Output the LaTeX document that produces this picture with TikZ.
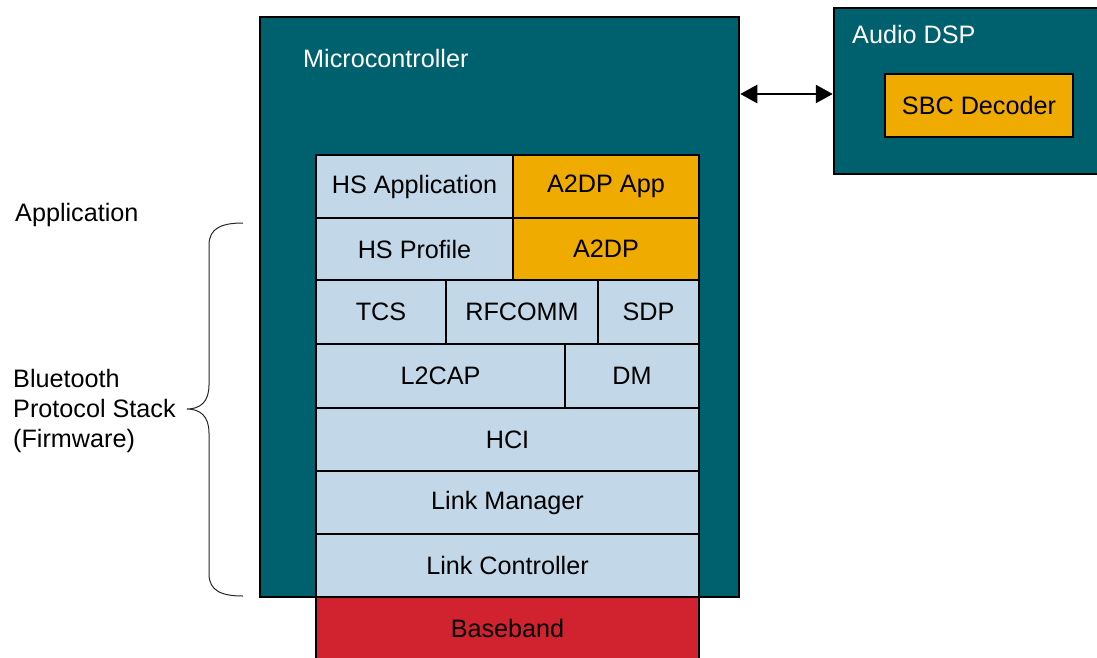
\documentclass[tikz,border=0pt]{standalone}
\usepackage{fontspec}
\setmainfont{Liberation Sans}
\usetikzlibrary{arrows.meta}
\definecolor{teal}{HTML}{00616E}
\definecolor{lblue}{HTML}{C2D8E8}
\definecolor{orng}{HTML}{F0AB00}
\definecolor{bred}{HTML}{D12230}
\begin{document}
\begin{tikzpicture}[x=1pt,y=-1pt,
  every node/.style={font=\fontsize{25.2}{30}\selectfont, inner sep=0pt},
  box/.style={draw=black, line width=2.5pt, rectangle},
  cell/.style={box, fill=lblue, text=black},
  ocell/.style={box, fill=orng, text=black},
  rcell/.style={box, fill=bred, text=black},
  tbox/.style={box, fill=teal},
  lbl/.style={anchor=west, text=black, align=left}]
\clip (0,0) rectangle (1097,657);
% containers
\node[tbox, minimum width=479pt, minimum height=580pt] (mc) at (499.5,307) {};
\node[anchor=west, text=white] (mctext) at (303,58) {Microcontroller};
\node[tbox, minimum width=276pt, minimum height=166pt] (dsp) at (972,91) {};
\node[anchor=west, text=white] (dsptext) at (852,34) {Audio DSP};
\node[ocell, minimum width=188pt, minimum height=63pt] (sbc) at (979,105.5) {SBC Decoder};
% stack
\node[cell, minimum width=197pt, minimum height=63pt] (hsapp) at (414.5,186.5) {HS Application};
\node[ocell, minimum width=186pt, minimum height=63pt] (a2dpapp) at (606,186.5) {A2DP App};
\node[cell, minimum width=197pt, minimum height=62pt] (hsprof) at (414.5,249) {HS Profile};
\node[ocell, minimum width=186pt, minimum height=62pt] (a2dp) at (606,249) {A2DP};
\node[cell, minimum width=130pt, minimum height=64pt] (tcs) at (381,312) {TCS};
\node[cell, minimum width=152pt, minimum height=64pt] (rfcomm) at (522,312) {RFCOMM};
\node[cell, minimum width=101pt, minimum height=64pt] (sdp) at (648.5,312) {SDP};
\node[cell, minimum width=249pt, minimum height=64pt] (l2cap) at (440.5,376) {L2CAP};
\node[cell, minimum width=134pt, minimum height=64pt] (dm) at (632,376) {DM};
\node[cell, minimum width=383pt, minimum height=63pt] (hci) at (507.5,439.5) {HCI};
\node[cell, minimum width=383pt, minimum height=63pt] (lm) at (507.5,502.5) {Link Manager};
\node[cell, minimum width=383pt, minimum height=63pt] (lc) at (507.5,565.5) {Link Controller};
\node[rcell, minimum width=383pt, minimum height=62pt] (bb) at (507.5,628) {Baseband};
% arrow
\coordinate (ay) at (787,94);
\draw[line width=2.5pt, {Triangle[length=17pt,width=18pt]}-{Triangle[length=17pt,width=18pt]}]
  (mc.east |- ay) -- (dsp.west |- ay);
% labels
\node[lbl] (app) at (15,215) {Application};
\node[lbl] (bps) at (13,411) {Bluetooth\\Protocol Stack\\(Firmware)};
% brace
\draw[line width=1pt, black!85] (243,223) .. controls (222,223) and (209,228) .. (209,245) -- (209,385)
  .. controls (209,402) and (200,409) .. (187,409)
  .. controls (200,409) and (209,416) .. (209,433) -- (209,574)
  .. controls (209,591) and (222,596) .. (243,596);
\end{tikzpicture}
\end{document}
